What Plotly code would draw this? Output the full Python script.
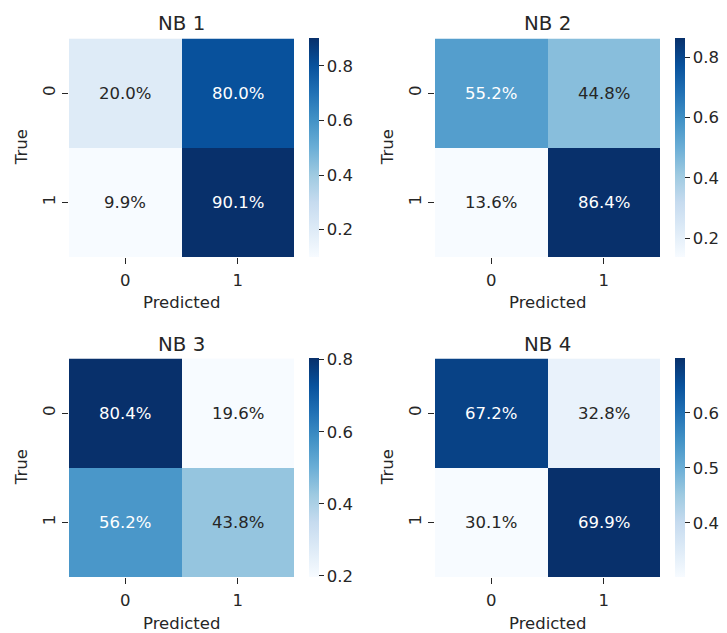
import plotly.graph_objects as go
from plotly.colors import sample_colorscale, unlabel_rgb

# Normalised confusion matrices (rows = true class, columns = predicted class)
titles = ["NB 1", "NB 2", "NB 3", "NB 4"]
nb1 = [[0.200, 0.800], [0.099, 0.901]]
nb2 = [[0.552, 0.448], [0.136, 0.864]]
nb3 = [[0.804, 0.196], [0.562, 0.438]]
nb4 = [[0.672, 0.328], [0.301, 0.699]]
matrices = [nb1, nb2, nb3, nb4]
class_labels = ["0", "1"]
cbar_ticks = [
    [0.2, 0.4, 0.6, 0.8],
    [0.2, 0.4, 0.6, 0.8],
    [0.2, 0.4, 0.6, 0.8],
    [0.4, 0.5, 0.6],
]

# ColorBrewer "Blues" (9 classes), linearly interpolated
blues = ["#f7fbff", "#deebf7", "#c6dbef", "#9ecae1", "#6baed6",
         "#4292c6", "#2171b5", "#08519c", "#08306b"]
colorscale = [[i / (len(blues) - 1), c] for i, c in enumerate(blues)]

W, H = 727, 633
FONT = "DejaVu Sans"
TXT = "#262626"
FS = 16.5

# panel geometry in pixels: left, top of the heatmap cell area
panels = [(69, 38.5), (435, 38.5), (69, 358.5), (435, 358.5)]
PW, PH = 225, 218.5


def fx(p):
    return p / W


def fy(p):
    return 1 - p / H


def rel_lum(rgb):
    vals = []
    for c in rgb:
        c = c / 255
        vals.append(c / 12.92 if c <= 0.03928 else ((c + 0.055) / 1.055) ** 2.4)
    return 0.2126 * vals[0] + 0.7152 * vals[1] + 0.0722 * vals[2]


fig = go.Figure()
annotations = []
layout = {}

for k, (z, title, ticks, (left, top)) in enumerate(zip(matrices, titles, cbar_ticks, panels)):
    n = "" if k == 0 else str(k + 1)
    zmin = min(min(r) for r in z)
    zmax = max(max(r) for r in z)
    fig.add_trace(go.Heatmap(
        z=z, x=class_labels, y=class_labels,
        xaxis="x" + n, yaxis="y" + n,
        colorscale=colorscale, zmin=zmin, zmax=zmax,
        showscale=True,
        colorbar=dict(
            x=fx(left + PW + 15), xanchor="left", xref="paper",
            y=fy(top + PH / 2), yanchor="middle", yref="paper",
            len=PH / H, lenmode="fraction",
            thickness=10, thicknessmode="pixels",
            xpad=0, ypad=0, outlinewidth=0,
            tickvals=ticks, tickformat=".1f",
            ticks="outside", ticklen=5, tickcolor=TXT,
            tickfont=dict(family=FONT, size=FS, color=TXT),
        ),
        hoverinfo="skip",
    ))
    layout["xaxis" + n] = dict(
        domain=[fx(left), fx(left + PW)], anchor="y" + n,
        tickvals=class_labels, ticks="outside", ticklen=6, tickcolor=TXT,
        showgrid=False, zeroline=False, showline=False,
        tickfont=dict(family=FONT, size=FS, color=TXT),
        ticklabelstandoff=2,
    )
    layout["yaxis" + n] = dict(
        domain=[fy(top + PH), fy(top)], anchor="x" + n,
        tickvals=class_labels, ticks="outside", ticklen=6, tickcolor=TXT,
        autorange="reversed", tickangle=-90,
        showgrid=False, zeroline=False, showline=False,
        tickfont=dict(family=FONT, size=FS, color=TXT),
        ticklabelstandoff=0,
    )
    # cell annotations, coloured by background luminance
    for i, row in enumerate(z):
        for j, v in enumerate(row):
            t = (v - zmin) / (zmax - zmin)
            rgb = unlabel_rgb(sample_colorscale(colorscale, [t])[0])
            col = TXT if rel_lum(rgb) > 0.408 else "#ffffff"
            annotations.append(dict(
                x=class_labels[j], y=class_labels[i],
                xref="x" + n, yref="y" + n,
                text=f"{v * 100:.1f}%", showarrow=False,
                font=dict(family=FONT, size=FS, color=col),
            ))
    # title and axis labels
    annotations.append(dict(
        x=fx(left + PW / 2), y=fy(top - 14.5), xref="paper", yref="paper",
        text=title, showarrow=False, xanchor="center", yanchor="middle",
        font=dict(family=FONT, size=19.8, color=TXT),
    ))
    annotations.append(dict(
        x=fx(left + PW / 2), y=fy(top + PH + 46), xref="paper", yref="paper",
        text="Predicted", showarrow=False, xanchor="center", yanchor="middle",
        font=dict(family=FONT, size=FS, color=TXT),
    ))
    annotations.append(dict(
        x=fx(left - 47.5), y=fy(top + PH / 2), xref="paper", yref="paper",
        text="True", showarrow=False, textangle=-90,
        xanchor="center", yanchor="middle",
        font=dict(family=FONT, size=FS, color=TXT),
    ))

fig.update_layout(
    width=W, height=H,
    margin=dict(l=0, r=0, t=0, b=0),
    paper_bgcolor="white", plot_bgcolor="white",
    font=dict(family=FONT, color=TXT),
    annotations=annotations,
    **layout,
)

fig.write_html("out.html")
